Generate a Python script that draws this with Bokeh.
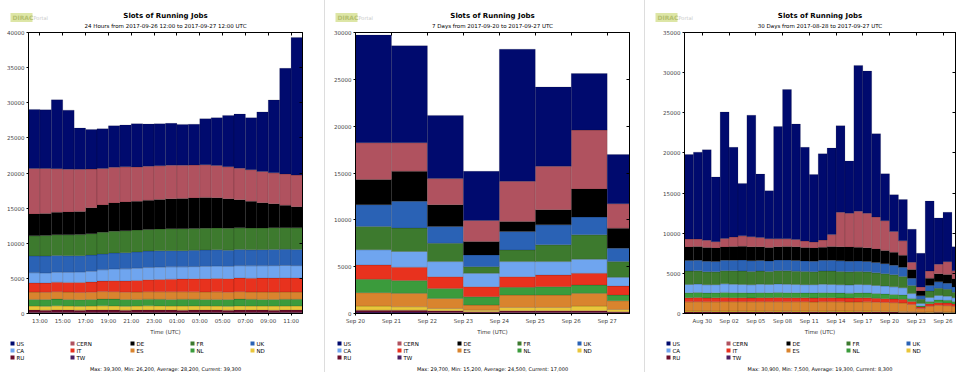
from bokeh.plotting import figure
from bokeh.layouts import row, column
from bokeh.models import Range1d, FixedTicker, LinearAxis, CustomJSTickFormatter, ColumnDataSource
from bokeh.core.properties import value
from bokeh.embed import file_html
from bokeh.resources import INLINE

# ---------------- legend (row-major, sorted by size) ----------------
sites = ["US", "CERN", "DE", "FR", "UK", "CA", "IT", "ES", "NL", "ND", "RU", "TW"]
site_colors = ["#000a6e", "#b0525f", "#000000", "#3d7a2e", "#2a62b5", "#6fa5ef",
               "#e8321e", "#d9842e", "#3b9b3c", "#e9c63a", "#6a0d2c", "#4a1f63"]

# ---------------- 24 hours ----------------
h24_title = "Slots of Running Jobs"
h24_sub = "24 Hours from 2017-09-26 12:00 to 2017-09-27 12:00 UTC"
h24_ticklabels = ["13:00", "15:00", "17:00", "19:00", "21:00", "23:00",
                  "01:00", "03:00", "05:00", "07:00", "09:00", "11:00"]
h24_footer = "Max: 39,300, Min: 26,200, Average: 28,200, Current: 39,300"
h24_TW = [150, 140, 160, 150, 140, 150, 160, 150, 140, 150, 160, 150, 150, 140, 160, 150, 150, 140, 160, 150, 150, 140, 160, 150]
h24_RU = [340, 330, 350, 340, 330, 340, 350, 340, 330, 340, 350, 360, 340, 330, 340, 350, 340, 330, 340, 350, 340, 330, 340, 350]
h24_ND = [560, 570, 580, 560, 570, 560, 580, 590, 570, 560, 580, 570, 560, 590, 580, 570, 560, 570, 580, 560, 570, 580, 560, 570]
h24_NL = [950, 940, 960, 950, 930, 940, 960, 970, 950, 960, 950, 940, 960, 970, 950, 940, 960, 950, 970, 960, 950, 940, 960, 950]
h24_ES = [1050, 1040, 1060, 1050, 1030, 1050, 1070, 1060, 1050, 1040, 1060, 1070, 1080, 1060, 1050, 1060, 1070, 1050, 1060, 1040, 1050, 1060, 1050, 1040]
h24_IT = [1300, 1320, 1350, 1380, 1420, 1450, 1500, 1550, 1600, 1650, 1700, 1750, 1800, 1820, 1850, 1880, 1900, 1920, 1950, 1960, 1980, 1990, 2000, 2000]
h24_CA = [1450, 1430, 1420, 1440, 1480, 1520, 1600, 1680, 1720, 1750, 1740, 1760, 1750, 1730, 1740, 1760, 1770, 1750, 1740, 1760, 1750, 1770, 1760, 1750]
h24_UK = [2400, 2420, 2380, 2350, 2330, 2300, 2250, 2280, 2300, 2320, 2350, 2330, 2310, 2300, 2320, 2340, 2330, 2310, 2300, 2290, 2300, 2310, 2300, 2290]
h24_FR = [2850, 2900, 2950, 2980, 3000, 3050, 3080, 3100, 3120, 3100, 3080, 3100, 3120, 3130, 3100, 3080, 3100, 3120, 3090, 3100, 3080, 3100, 3090, 3100]
h24_DE = [3100, 3150, 3200, 3250, 3300, 3700, 3900, 4000, 4100, 4100, 4150, 4200, 4250, 4300, 4350, 4400, 4300, 4200, 4000, 3800, 3600, 3400, 3200, 3000]
h24_CERN = [6500, 6400, 6200, 6100, 6000, 5500, 5200, 5100, 5000, 4900, 4850, 4800, 4800, 4750, 4700, 4650, 4600, 4550, 4500, 4500, 4450, 4400, 4450, 4500]
h24_US = [8400, 8350, 9800, 8400, 5870, 5640, 5650, 5900, 5950, 6150, 6000, 5970, 5950, 5800, 5800, 6550, 6800, 7310, 7700, 7400, 8480, 10380, 15030, 19600]

# ---------------- 7 days ----------------
d7_title = "Slots of Running Jobs"
d7_sub = "7 Days from 2017-09-20 to 2017-09-27 UTC"
d7_ticklabels = ["Sep 20", "Sep 21", "Sep 22", "Sep 23", "Sep 24", "Sep 25", "Sep 26", "Sep 27"]
d7_footer = "Max: 29,700, Min: 15,200, Average: 24,500, Current: 17,000"
d7_TW = [150, 150, 120, 80, 120, 120, 120, 80]
d7_RU = [210, 210, 170, 100, 170, 170, 170, 100]
d7_ND = [430, 360, 250, 180, 360, 360, 500, 250]
d7_ES = [1430, 1430, 1070, 540, 1320, 1320, 1360, 930]
d7_NL = [1430, 1360, 1070, 890, 820, 890, 890, 610]
d7_IT = [1540, 1430, 1250, 1070, 1140, 1250, 1250, 960]
d7_CA = [1610, 1680, 1610, 1430, 1610, 1430, 1500, 930]
d7_FR = [2500, 2500, 1960, 710, 1250, 1790, 2610, 1680]
d7_UK = [2320, 2860, 1790, 1250, 1960, 2140, 1890, 1430]
d7_DE = [2680, 3210, 2320, 1430, 1070, 1610, 3000, 2140]
d7_CERN = [3930, 3040, 2790, 2250, 4290, 4640, 6290, 2610]
d7_US = [11500, 10360, 6750, 5250, 14110, 8460, 6040, 5250]

# ---------------- 30 days ----------------
d30_title = "Slots of Running Jobs"
d30_sub = "30 Days from 2017-08-28 to 2017-09-27 UTC"
d30_ticklabels = ["Aug 30", "Sep 02", "Sep 05", "Sep 08", "Sep 11", "Sep 14", "Sep 17", "Sep 20", "Sep 23", "Sep 26"]
d30_footer = "Max: 30,900, Min: 7,500, Average: 19,300, Current: 8,300"
d30_TW = [60, 60, 70, 60, 60, 60, 70, 60, 60, 60, 60, 70, 60, 60, 60, 60, 70, 60, 60, 60, 60, 60, 50, 50, 50, 40, 30, 40, 40, 40, 30]
d30_RU = [140, 140, 140, 140, 130, 140, 140, 140, 140, 130, 140, 140, 140, 140, 130, 140, 140, 140, 140, 130, 140, 130, 130, 130, 120, 120, 90, 100, 110, 100, 100]
d30_ND = [100, 110, 100, 100, 110, 100, 100, 110, 100, 100, 110, 100, 100, 110, 100, 100, 100, 110, 100, 100, 110, 100, 100, 90, 90, 70, 40, 60, 70, 60, 50]
d30_ES = [1150, 1160, 1140, 1150, 1170, 1160, 1150, 1140, 1160, 1170, 1150, 1140, 1160, 1150, 1140, 1160, 1150, 1140, 1130, 1150, 1140, 1120, 1100, 1080, 1050, 900, 450, 700, 800, 780, 700]
d30_IT = [500, 510, 490, 500, 520, 510, 500, 490, 510, 500, 520, 510, 500, 490, 500, 510, 500, 490, 500, 510, 500, 480, 470, 460, 450, 350, 200, 300, 320, 330, 300]
d30_NL = [620, 630, 610, 620, 640, 630, 620, 610, 630, 620, 640, 630, 620, 610, 620, 630, 620, 610, 600, 620, 610, 600, 580, 560, 540, 400, 150, 300, 350, 330, 300]
d30_CA = [1040, 1050, 1030, 1020, 1060, 1050, 1040, 1030, 1050, 1040, 1060, 1050, 1040, 1030, 1040, 1050, 1040, 1030, 1020, 1040, 1030, 1000, 980, 950, 900, 600, 300, 500, 550, 520, 480]
d30_FR = [1670, 1650, 1620, 1600, 1640, 1660, 1680, 1650, 1640, 1620, 1660, 1680, 1650, 1640, 1620, 1650, 1670, 1650, 1640, 1620, 1600, 1580, 1550, 1500, 1400, 1000, 500, 800, 900, 850, 700]
d30_UK = [1330, 1320, 1300, 1280, 1310, 1330, 1350, 1340, 1320, 1300, 1320, 1340, 1330, 1310, 1300, 1320, 1340, 1330, 1310, 1300, 1290, 1280, 1250, 1200, 1150, 900, 450, 700, 800, 750, 650]
d30_DE = [1670, 1700, 1720, 1680, 1650, 1700, 1720, 1750, 1700, 1680, 1650, 1700, 1720, 1680, 1650, 1620, 1700, 1750, 1780, 1720, 1700, 1680, 1650, 1600, 1500, 1100, 600, 900, 1000, 1100, 1000]
d30_CERN = [1000, 950, 900, 800, 1050, 1200, 1300, 1250, 1150, 1100, 1000, 950, 900, 800, 750, 900, 1500, 4300, 4200, 4500, 4300, 4000, 3700, 2600, 1800, 900, 500, 900, 1200, 1600, 1000]
d30_US = [10520, 10820, 11280, 8050, 15760, 11160, 6530, 15130, 7900, 5960, 13990, 18590, 14380, 11680, 8390, 10760, 10770, 10790, 6520, 18150, 17720, 10370, 5840, 4580, 5150, 4120, 4190, 8700, 5760, 6140, 2990]

FONT = "DejaVu Sans"
color_of = dict(zip(sites, site_colors))
HDR_H = 29
MAIN_H = 308
LEG_H = 35


def header(W, cx, title, sub):
    h = figure(width=W, height=HDR_H, x_range=Range1d(0, W), y_range=Range1d(0, HDR_H),
               x_axis_type=None, y_axis_type=None, toolbar_location=None,
               output_backend="svg", min_border=0, outline_line_color=None, frame_align=False)
    h.grid.visible = False
    # logo (light green badge + grey caption)
    h.rect(x=[21], y=[HDR_H - 17], width=[22], height=[9], fill_color="#dde6a6", line_color=None)
    h.text(x=[12], y=[HDR_H - 17], text=["DIRAC"], text_font=value(FONT), text_font_size="6px",
           text_color="#b5c070", text_baseline="middle", text_font_style="bold")
    h.text(x=[33], y=[HDR_H - 17], text=["Portal"], text_font=value(FONT), text_font_size="5px",
           text_color="#c8c8c8", text_baseline="middle")
    h.text(x=[cx], y=[HDR_H - 15], text=[title], text_font=value(FONT), text_font_size="7px",
           text_font_style="bold", text_align="center", text_baseline="middle")
    h.text(x=[cx], y=[HDR_H - 25], text=[sub], text_font=value(FONT), text_font_size="5.5px",
           text_align="center", text_baseline="middle")
    return h


def main(W, lb, rb, data, order, xend, ticks, ticklabels, ymax, ystep):
    n = len(data["US"])
    w = [1.0] * n
    w[-1] = xend - (n - 1)
    src = {"x": [i + w[i] / 2 for i in range(n)], "w": w}
    for s in sites:
        src[s] = data[s]
    source = ColumnDataSource(src)
    p = figure(width=W, height=MAIN_H, x_range=Range1d(0, xend), y_range=Range1d(0, ymax),
               toolbar_location=None, output_backend="svg",
               min_border_left=lb, min_border_right=rb, min_border_top=3, min_border_bottom=8,
               outline_line_color="black", frame_align=False)
    p.grid.visible = False
    p.vbar_stack(order, x="x", width="w", source=source,
                 fill_color=[color_of[s] for s in order],
                 line_color="black", line_alpha=0.25, line_width=0.5)
    yt = list(range(0, ymax + 1, ystep))
    p.xaxis.ticker = FixedTicker(ticks=ticks)
    p.xaxis.major_label_overrides = {t: l for t, l in zip(ticks, ticklabels)}
    p.yaxis.ticker = FixedTicker(ticks=yt)
    for ax in (p.xaxis[0], p.yaxis[0]):
        ax.major_label_text_font = FONT
        ax.major_label_text_font_size = "5.5px"
        ax.major_tick_out = 2
        ax.major_tick_in = 0
        ax.minor_tick_out = 0
        ax.major_label_standoff = 2
        ax.axis_line_color = "black"
    p.xaxis.axis_label = "Time (UTC)"
    p.xaxis.axis_label_text_font = FONT
    p.xaxis.axis_label_text_font_size = "5.5px"
    p.xaxis.axis_label_text_font_style = "normal"
    p.xaxis.axis_label_text_color = "#333333"
    p.xaxis.axis_label_standoff = 2
    blank = CustomJSTickFormatter(code="return ''")
    top = LinearAxis(ticker=FixedTicker(ticks=ticks), formatter=blank, major_tick_in=3,
                     major_tick_out=0, minor_tick_out=0, major_label_standoff=0)
    right = LinearAxis(ticker=FixedTicker(ticks=yt), formatter=blank, major_tick_in=3,
                       major_tick_out=0, minor_tick_out=0, major_label_standoff=0)
    p.add_layout(top, "above")
    p.add_layout(right, "right")
    return p


def legend(W, lb, fw, footer):
    g = figure(width=W, height=LEG_H, x_range=Range1d(0, W), y_range=Range1d(0, LEG_H),
               x_axis_type=None, y_axis_type=None, toolbar_location=None,
               output_backend="svg", min_border=0, outline_line_color=None, frame_align=False)
    g.grid.visible = False
    xs, ys = [], []
    for i in range(len(sites)):
        xs.append(lb - 16 + 60 * (i % 5))
        ys.append(LEG_H - 6 - 7 * (i // 5))
    g.rect(x=xs, y=ys, width=4, height=4, fill_color=site_colors, line_color=None)
    g.text(x=[x + 4 for x in xs], y=ys, text=sites, text_font=value(FONT), text_font_size="5.5px",
           text_baseline="middle")
    g.text(x=[lb + fw / 2], y=[4], text=[footer], text_font=value(FONT), text_font_size="5px",
           text_align="center", text_baseline="middle")
    return g


def panel(W, lb, rb, title, sub, data, order, xend, ticks, ticklabels, ymax, ystep, footer, sep):
    fw = W - lb - rb
    styles = {"border-left": "1px solid #dddddd"} if sep else {}
    return column(header(W, lb + fw / 2, title, sub),
                  main(W, lb, rb, data, order, xend, ticks, ticklabels, ymax, ystep),
                  legend(W, lb, fw, footer), styles=styles)


h24 = {"US": h24_US, "CERN": h24_CERN, "DE": h24_DE, "FR": h24_FR, "UK": h24_UK, "CA": h24_CA,
       "IT": h24_IT, "ES": h24_ES, "NL": h24_NL, "ND": h24_ND, "RU": h24_RU, "TW": h24_TW}
d7 = {"US": d7_US, "CERN": d7_CERN, "DE": d7_DE, "FR": d7_FR, "UK": d7_UK, "CA": d7_CA,
      "IT": d7_IT, "ES": d7_ES, "NL": d7_NL, "ND": d7_ND, "RU": d7_RU, "TW": d7_TW}
d30 = {"US": d30_US, "CERN": d30_CERN, "DE": d30_DE, "FR": d30_FR, "UK": d30_UK, "CA": d30_CA,
       "IT": d30_IT, "ES": d30_ES, "NL": d30_NL, "ND": d30_ND, "RU": d30_RU, "TW": d30_TW}

order24 = ["TW", "RU", "ND", "NL", "ES", "IT", "CA", "UK", "FR", "DE", "CERN", "US"]
order7 = ["TW", "RU", "ND", "ES", "NL", "IT", "CA", "FR", "UK", "DE", "CERN", "US"]
order30 = ["TW", "RU", "ND", "ES", "IT", "NL", "CA", "FR", "UK", "DE", "CERN", "US"]

p1 = panel(324, 28, 22, h24_title, h24_sub, h24, order24, 24,
           [1 + 2 * i for i in range(len(h24_ticklabels))], h24_ticklabels, 40000, 5000, h24_footer, False)
p2 = panel(319, 30, 15, d7_title, d7_sub, d7, order7, 7.62,
           list(range(len(d7_ticklabels))), d7_ticklabels, 30000, 5000, d7_footer, True)
p3 = panel(312, 39, 2, d30_title, d30_sub, d30, order30, 30.4,
           [2 + 3 * i for i in range(len(d30_ticklabels))], d30_ticklabels, 35000, 5000, d30_footer, True)

layout = row(p1, p2, p3)
open("out.html", "w").write(file_html(layout, INLINE))
